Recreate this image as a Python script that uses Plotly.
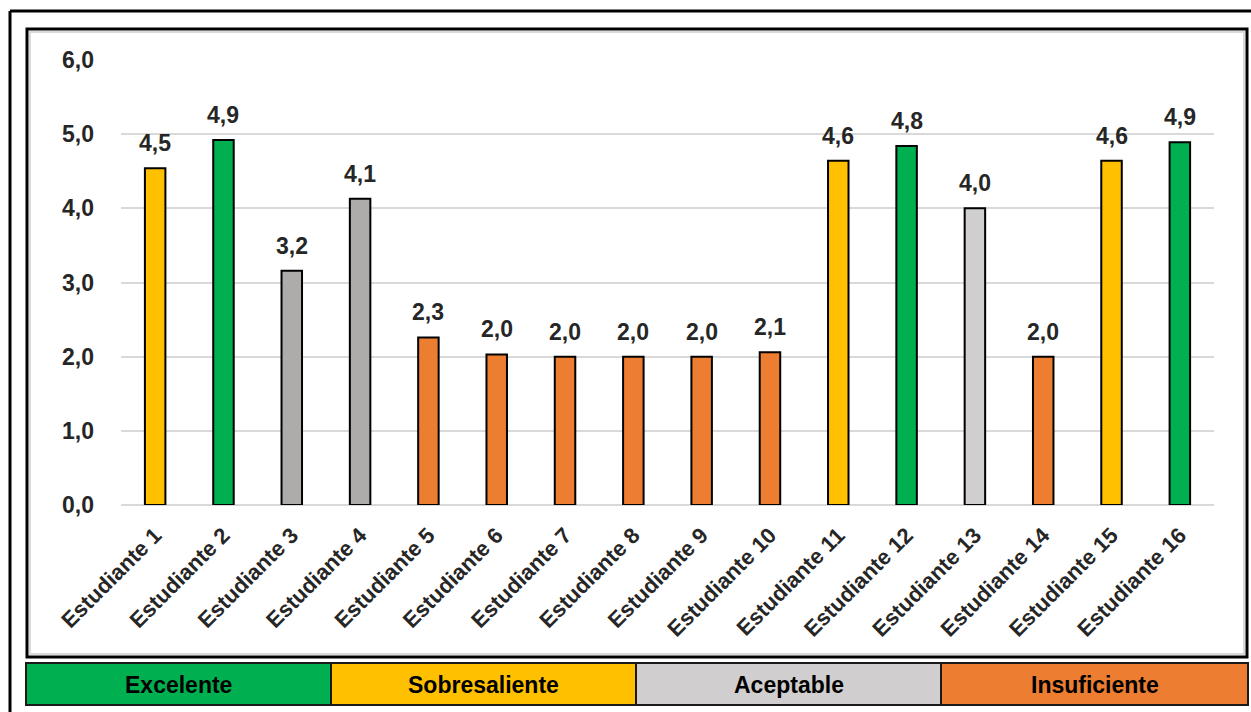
import plotly.graph_objects as go

students = [f"Estudiante {i}" for i in range(1, 17)]
scores = [4.54, 4.92, 3.16, 4.13, 2.26, 2.03, 2.0, 2.0, 2.0, 2.06, 4.64, 4.84, 4.0, 2.0, 4.64, 4.89]
bar_colors = ["#FFC000", "#00B050", "#AEABAB", "#AEABAB", "#ED7D31", "#ED7D31", "#ED7D31",
              "#ED7D31", "#ED7D31", "#ED7D31", "#FFC000", "#00B050", "#D0CECE", "#ED7D31",
              "#FFC000", "#00B050"]
legend_labels = ["Excelente", "Sobresaliente", "Aceptable", "Insuficiente"]
legend_colors = ["#00B050", "#FFC000", "#D0CECE", "#ED7D31"]
y_ticks = [0, 1, 2, 3, 4, 5, 6]

W, H = 1251, 712
PL, PR, PT, PB = 121, 1214, 60, 505
TXT = "#262626"

def px(p):
    return (p - PL) / (PR - PL)

def py(p):
    return (PB - p) / (PB - PT)

fig = go.Figure()
fig.add_trace(go.Bar(
    x=students, y=scores,
    marker=dict(color=bar_colors, line=dict(color="black", width=2)),
    width=0.3,
    cliponaxis=False,
))

annotations = []
for s, v in zip(students, scores):
    annotations.append(dict(x=s, y=v, xref="x", yref="y", text=f"{v:.1f}".replace(".", ","),
                            showarrow=False, xanchor="center", yanchor="bottom", yshift=10,
                            font=dict(family="Liberation Sans", size=23, color=TXT, weight="bold")))

shapes = []
shapes.append(dict(type="line", xref="paper", yref="paper", x0=px(10), x1=px(1253), y0=py(11), y1=py(11),
                   line=dict(color="black", width=3)))
shapes.append(dict(type="line", xref="paper", yref="paper", x0=px(10), x1=px(10), y0=py(11), y1=py(714),
                   line=dict(color="black", width=3)))
shapes.append(dict(type="rect", xref="paper", yref="paper", x0=px(27), x1=px(1247), y0=py(29), y1=py(657),
                   line=dict(color="black", width=3)))
shapes.append(dict(type="rect", xref="paper", yref="paper", x0=px(30), x1=px(1244), y0=py(32), y1=py(654),
                   line=dict(color="#D9D9D9", width=2)))

seg_edges = [26, 331, 636, 941, 1248]
for i, (lab, col) in enumerate(zip(legend_labels, legend_colors)):
    x0, x1 = seg_edges[i], seg_edges[i + 1]
    shapes.append(dict(type="rect", xref="paper", yref="paper", x0=px(x0), x1=px(x1), y0=py(663), y1=py(705),
                       fillcolor=col, line=dict(color="#1a1a1a", width=2)))
    annotations.append(dict(xref="paper", yref="paper", x=px((x0 + x1) / 2), y=py(685), text=f"<b>{lab}</b>",
                            showarrow=False, xanchor="center", yanchor="middle",
                            font=dict(family="Liberation Sans", size=23, color="black")))

fig.update_layout(
    width=W, height=H,
    margin=dict(l=PL, r=W - PR, t=PT, b=H - PB),
    plot_bgcolor="white", paper_bgcolor="white",
    separators=",.",
    showlegend=False,
    font=dict(family="Liberation Sans", color=TXT),
    shapes=shapes,
    annotations=annotations,
    yaxis=dict(range=[0, 6], tickvals=y_ticks, tickformat=".1f", showgrid=True, gridcolor="#D9D9D9",
               gridwidth=2, zeroline=True, zerolinecolor="#D9D9D9", zerolinewidth=2, showline=False,
               ticks="", ticklabelstandoff=26,
               tickfont=dict(family="Liberation Sans", size=23, color=TXT, weight="bold")),
    xaxis=dict(tickangle=-45, showgrid=False, showline=False, ticks="", ticklabelstandoff=12,
               tickfont=dict(family="Liberation Sans", size=22, color=TXT, weight="bold")),
)

fig.write_html("out.html")
